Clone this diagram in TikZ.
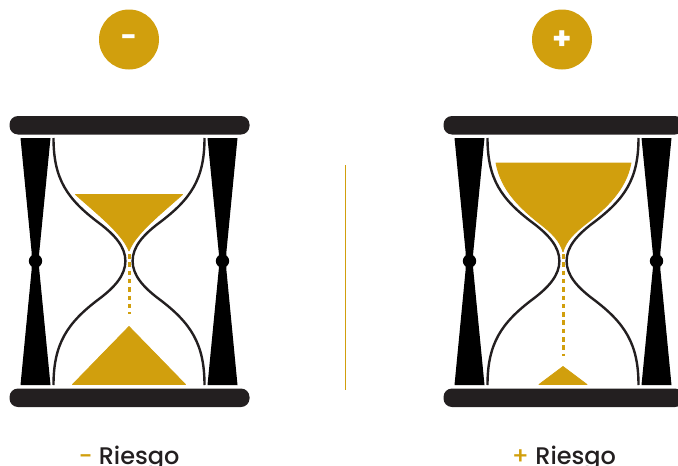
\documentclass[tikz,border=0pt]{standalone}
\usepackage{fontspec}
\setmainfont{Poppins}
\newfontfamily\medfont{Poppins Medium}
\definecolor{gold}{HTML}{D19F0D}
\definecolor{barc}{HTML}{231F20}
\tikzset{
  sand/.style={fill=gold,draw=gold,line width=.8pt,line join=round},
  bar/.style={fill=barc,rounded corners=8.5pt},
  leg/.style={fill=black},
  glass/.style={draw=barc,line width=2.4pt},
  grain/.style={draw=gold,line width=3pt,dash pattern=on 4.5pt off 3.8pt},
  divider/.style={fill=gold},
  badge/.style={circle,fill=gold,minimum size=60pt,inner sep=0pt,text=white},
  risk/.style={font=\fontsize{24}{24}\selectfont\medfont,text=barc,anchor=base,inner sep=0pt},
  pics/hourglass/.style={code={
    \fill[bar] (-119.5,77) rectangle (120.5,95.5);
    \fill[bar] (-119.5,349.5) rectangle (120.5,368);
    \foreach \s in {-1,1}{
      \fill[leg] (\s*78.5,99) -- (\s*108.5,99) -- (\s*97.3,214) -- (\s*97.3,230) -- (\s*108.5,346) -- (\s*78.5,346) -- (\s*89.8,230) -- (\s*89.8,214) -- cycle;
      \fill[leg] (\s*93.5,222) circle[radius=6.7];
      \draw[glass] (\s*75.5,99)
        .. controls (\s*75.5,140) and (\s*62,160) .. (\s*30,184)
        .. controls (\s*14,196) and (\s*3.6,208) .. (\s*3.6,222)
        .. controls (\s*3.6,236) and (\s*14,248) .. (\s*30,260)
        .. controls (\s*62,284) and (\s*75.5,305) .. (\s*75.5,346);
    }
  }}
}
\begin{document}
\begin{tikzpicture}[x=1pt,y=-1pt]
\useasboundingbox (0,0) rectangle (678,466);
\clip (0,0) rectangle (678,466);
% left hourglass
\pic at (129,39) {hourglass};
\fill[sand] (75.5,194.5) -- (182.5,194.5)
  .. controls (162,213) and (136,233) .. (129,251)
  .. controls (122,233) and (96,213) .. (75.5,194.5) -- cycle;
\fill[sand] (129,326.5) -- (185.5,384.5) -- (72.5,384.5) -- cycle;
\coordinate (lt) at (129,254);
\coordinate (lb) at (129,314);
\draw[grain] (lt) -- (lb);
% right hourglass
\pic at (563,39) {hourglass};
\fill[sand] (496,163) -- (631,163)
  .. controls (626,190) and (606,208) .. (587,223)
  .. controls (574,233) and (566,241) .. (563,252)
  .. controls (560,241) and (552,233) .. (539,223)
  .. controls (520,208) and (501,190) .. (496,163) -- cycle;
\fill[sand] (563,366.5) -- (587,384.5) -- (539,384.5) -- cycle;
\coordinate (rt) at (563,254);
\coordinate (rb) at (563,356);
\draw[grain] (rt) -- (rb);
% divider
\coordinate (dvt) at (344.5,165);
\coordinate (dvb) at (346,390);
\fill[divider] (dvt) rectangle (dvb);
% badges
\node[badge,font=\fontsize{28}{28}\selectfont\bfseries] (minus) at (129,39.5) {\smash{\raisebox{-7.3pt}{-}}};
\node[badge,font=\fontsize{31}{31}\selectfont\bfseries] (plus) at (562,39.5) {\smash{\raisebox{-10.3pt}{+}}};
% labels
\node[risk] (lminus) at (129,464) {\textcolor{gold}{-} Riesgo};
\node[risk] (lplus) at (564,464) {\textcolor{gold}{+} Riesgo};
\end{tikzpicture}
\end{document}
